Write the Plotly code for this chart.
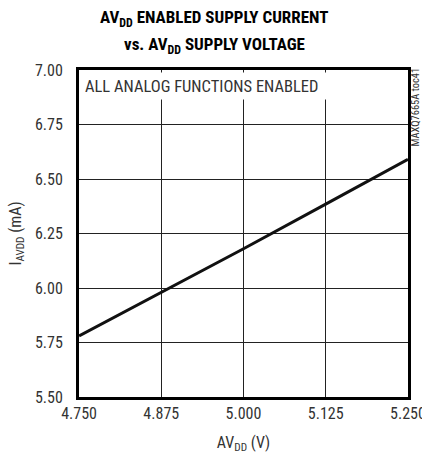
import plotly.graph_objects as go

voltage = [4.750, 4.875, 5.000, 5.125, 5.250]
current = [5.78, 5.98, 6.18, 6.385, 6.59]

x_ticks = [4.750, 4.875, 5.000, 5.125, 5.250]
x_tick_labels = ["4.750", "4.875", "5.000", "5.125", "5.250"]
y_ticks = [5.50, 5.75, 6.00, 6.25, 6.50, 6.75, 7.00]
y_tick_labels = ["5.50", "5.75", "6.00", "6.25", "6.50", "6.75", "7.00"]

FONT = "Liberation Sans Narrow, Roboto Condensed, Arial Narrow, Roboto, sans-serif"

W, H = 422, 459
L, R, T, B = 79, 14, 70, 62
PW = W - L - R

fig = go.Figure()
fig.add_trace(go.Scatter(x=voltage, y=current, mode="lines",
                         line=dict(color="#111111", width=3), showlegend=False))

fig.update_layout(
    width=W, height=H,
    margin=dict(l=L, r=R, t=T, b=B, autoexpand=False),
    plot_bgcolor="white", paper_bgcolor="white",
    font=dict(family=FONT, size=16, color="#333333"),
    xaxis=dict(
        range=[4.7499, 5.2501], tickvals=x_ticks, ticktext=x_tick_labels,
        showgrid=True, gridcolor="#222222", gridwidth=1,
        showline=True, linecolor="black", linewidth=3, mirror=True,
        ticks="", zeroline=False, ticklabeloverflow="allow", automargin=False,
        tickfont=dict(size=16),
        title=dict(text="AV<sub>DD</sub> (V)", standoff=15, font=dict(size=16)),
    ),
    yaxis=dict(
        range=[5.5, 7.0], tickvals=y_ticks, ticktext=y_tick_labels,
        showgrid=True, gridcolor="#222222", gridwidth=1,
        showline=True, linecolor="black", linewidth=3, mirror=True,
        ticks="", zeroline=False, ticklabeloverflow="allow", automargin=False,
        ticklabelstandoff=10,
        tickfont=dict(size=16),
        title=dict(text="I<sub>AVDD</sub> (mA)", standoff=10, font=dict(size=16)),
    ),
)

# Title lines (centered on the page)
title_x = (214 - L) / PW
fig.add_annotation(
    text="<b>AV<sub>DD</sub> ENABLED SUPPLY CURRENT</b>",
    xref="paper", yref="paper", x=title_x, y=1.0, xanchor="center", yanchor="middle",
    yshift=52, showarrow=False,
    font=dict(family=FONT, size=17, color="black"),
)
fig.add_annotation(
    text="<b>vs. AV<sub>DD</sub> SUPPLY VOLTAGE</b>",
    xref="paper", yref="paper", x=title_x, y=1.0, xanchor="center", yanchor="middle",
    yshift=25, showarrow=False,
    font=dict(family=FONT, size=17, color="black"),
)

fig.add_annotation(
    text="ALL ANALOG FUNCTIONS ENABLED",
    xref="paper", yref="paper", x=0.0, y=1.0, xanchor="left", yanchor="top",
    showarrow=False, align="left", bgcolor="white", width=254, height=24,
    borderpad=1, xshift=4, yshift=-2,
    font=dict(family=FONT, size=16.5, color="#333333"),
)
fig.add_annotation(
    text="MAXQ7665A toc41",
    xref="paper", yref="paper", x=1.0, y=1.0, xanchor="center", yanchor="top",
    showarrow=False, textangle=-90, xshift=7, yshift=3, borderpad=0,
    font=dict(family=FONT, size=10.5, color="#333333"),
)

fig.write_html("out.html", config={"displayModeBar": False},
               post_script="document.body.style.margin='0';")
